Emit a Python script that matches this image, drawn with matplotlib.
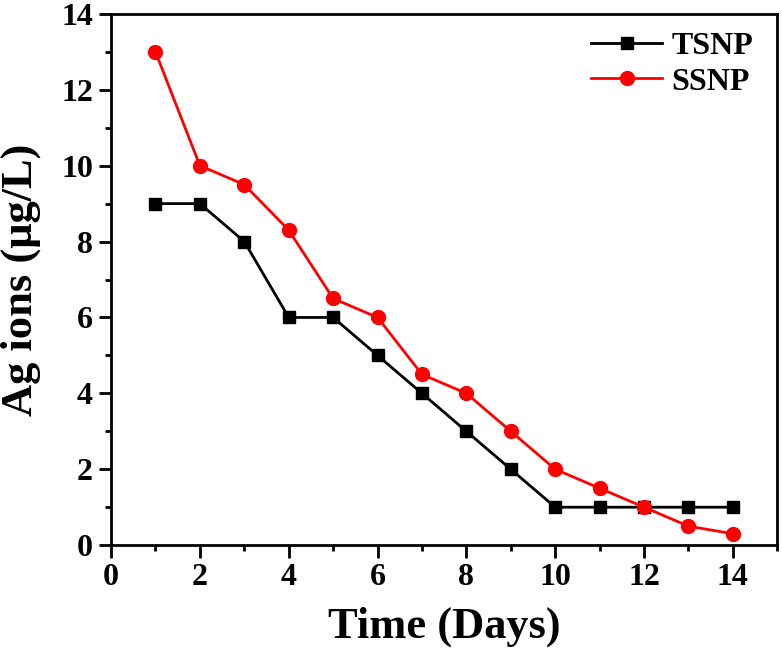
import matplotlib
matplotlib.use("Agg")
import matplotlib.pyplot as plt
from matplotlib.ticker import MultipleLocator

days = list(range(1, 15))
tsnp = [9, 9, 8, 6, 6, 5, 4, 3, 2, 1, 1, 1, 1, 1]
ssnp = [13, 10, 9.5, 8.3, 6.5, 6, 4.5, 4, 3, 2, 1.5, 1, 0.5, 0.3]

plt.rcParams['font.family'] = ['Liberation Serif', 'DejaVu Serif']
plt.rcParams['font.weight'] = 'bold'

fig = plt.figure(figsize=(7.82, 6.60), dpi=100)
ax = fig.add_axes([0.142, 0.174, 0.852, 0.805])

ax.plot(days, tsnp, color='black', marker='s', markersize=9, linewidth=2, label='TSNP')
ax.plot(days, ssnp, color='#ff0000', marker='o', markersize=10, linewidth=2, label='SSNP')

ax.set_xlim(0, 15)
ax.set_ylim(0, 14)
ax.xaxis.set_major_locator(MultipleLocator(2))
ax.xaxis.set_minor_locator(MultipleLocator(1))
ax.yaxis.set_major_locator(MultipleLocator(2))
ax.yaxis.set_minor_locator(MultipleLocator(1))
ax.tick_params(which='both', direction='out', width=2, top=False, right=False, labelsize=23)
ax.tick_params(which='major', length=9, pad=4)
ax.tick_params(which='minor', length=4.5)
for lab in ax.get_xticklabels() + ax.get_yticklabels():
    lab.set_fontweight('bold')
for s in ax.spines.values():
    s.set_linewidth(2)

ax.set_xlabel('Time (Days)', fontsize=32, fontweight='bold', labelpad=10)
ax.set_ylabel('Ag ions (μg/L)', fontsize=32, fontweight='bold')
ax.yaxis.set_label_coords(-0.105, 0.5)

leg = ax.legend(loc='upper right', frameon=False, fontsize=23, handlelength=2.2,
                borderaxespad=0.15, labelspacing=0.2, handletextpad=0.3,
                bbox_to_anchor=(0.99, 1.0))
for t in leg.get_texts():
    t.set_fontweight('bold')

fig.savefig('out.png', dpi=100)
